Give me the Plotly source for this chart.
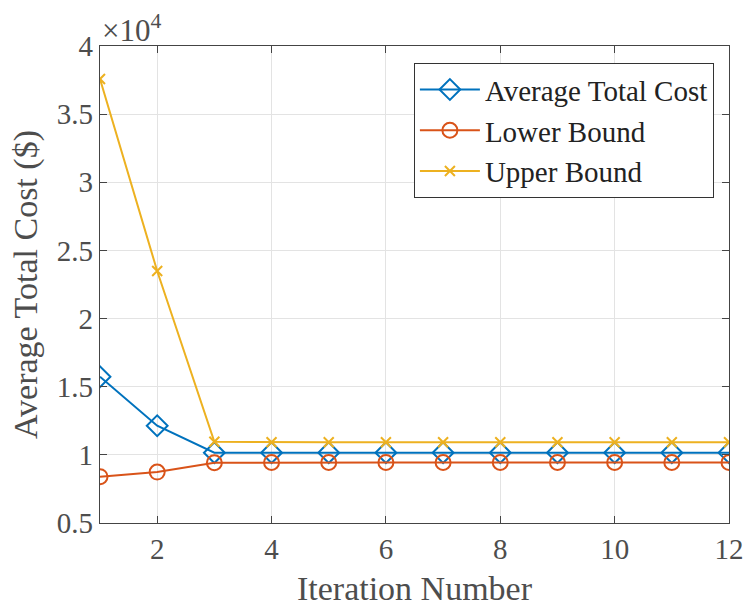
import plotly.graph_objects as go

iterations = list(range(1, 13))
avg_cost = [15730, 12140, 10160, 10160, 10160, 10160, 10160, 10160, 10160, 10160, 10160, 10160]
lower_bound = [8400, 8740, 9420, 9440, 9440, 9440, 9440, 9440, 9440, 9440, 9440, 9440]
upper_bound = [37580, 23490, 10960, 10930, 10930, 10930, 10930, 10930, 10930, 10930, 10930, 10930]

y_tickvals = [5000, 10000, 15000, 20000, 25000, 30000, 35000, 40000]
y_ticktext = ["0.5", "1", "1.5", "2", "2.5", "3", "3.5", "4"]
x_tickvals = [2, 4, 6, 8, 10, 12]

font_family = "Liberation Serif, Times New Roman, serif"

fig = go.Figure()
fig.add_trace(go.Scatter(x=iterations, y=avg_cost, mode="lines+markers",
                         name="Average Total Cost",
                         line=dict(color="#0072BD", width=2),
                         marker=dict(symbol="diamond-open", size=16, color="#0072BD", line=dict(width=2))))
fig.add_trace(go.Scatter(x=iterations, y=lower_bound, mode="lines+markers",
                         name="Lower Bound",
                         line=dict(color="#D95319", width=2),
                         marker=dict(symbol="circle-open", size=15, color="#D95319", line=dict(width=2))))
fig.add_trace(go.Scatter(x=iterations, y=upper_bound, mode="lines+markers",
                         name="Upper Bound",
                         line=dict(color="#EDB120", width=2),
                         marker=dict(symbol="x-thin-open", size=10, color="#EDB120", line=dict(width=2, color="#EDB120"))))

axis_common = dict(showline=True, linecolor="#444444", linewidth=1.3, mirror="allticks",
                   ticks="inside", ticklen=7, tickcolor="#444444", automargin=False,
                   showgrid=True, gridcolor="#E3E3E3", gridwidth=1, zeroline=False,
                   tickfont=dict(family=font_family, size=29, color="#4D4D4D"))

fig.update_xaxes(range=[1, 12], tickvals=x_tickvals,
                 title=dict(text="Iteration Number", font=dict(family=font_family, size=34, color="#4D4D4D"), standoff=12),
                 **axis_common)
fig.update_yaxes(range=[5000, 40000], tickvals=y_tickvals, ticktext=y_ticktext,
                 title=dict(text="Average Total Cost ($)", font=dict(family=font_family, size=34, color="#4D4D4D"), standoff=8),
                 **axis_common)

fig.add_annotation(text="×10<sup>4</sup>", xref="paper", yref="paper", x=0, y=1.0,
                   xanchor="left", yanchor="bottom", showarrow=False,
                   font=dict(family=font_family, size=31, color="#4D4D4D"), yshift=-4)

fig.update_layout(width=745, height=607,
                  margin=dict(l=100, r=16, t=46, b=84, autoexpand=False),
                  paper_bgcolor="white", plot_bgcolor="white",
                  legend=dict(x=0.976, y=0.964, xanchor="right", yanchor="top",
                              bgcolor="white", bordercolor="#333333", borderwidth=1,
                              font=dict(family=font_family, size=29, color="#222222"),
                              itemwidth=60, tracegroupgap=0))

fig.write_html("out.html")
